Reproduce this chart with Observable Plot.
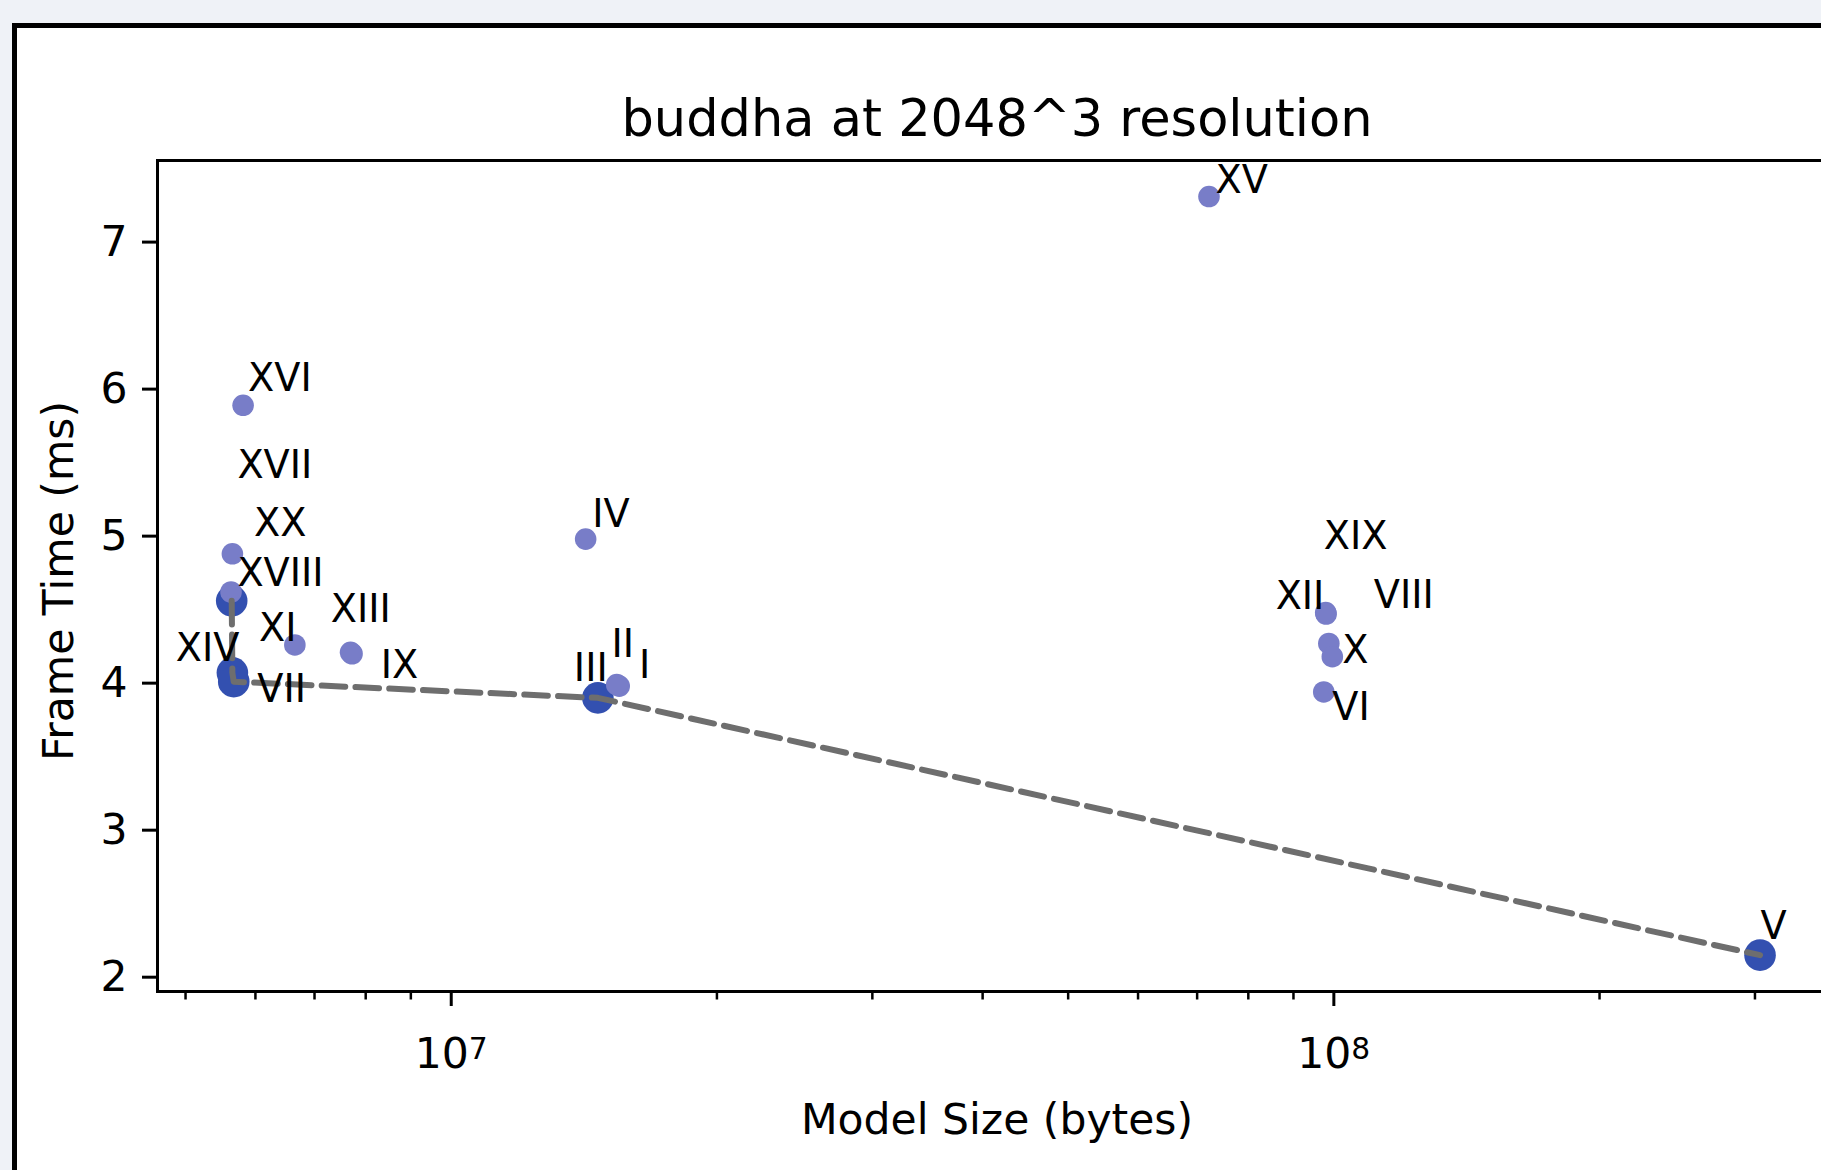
<!DOCTYPE html>
<html><head><meta charset="utf-8">
<script src="https://cdn.jsdelivr.net/npm/d3@7"></script>
<script src="https://cdn.jsdelivr.net/npm/@observablehq/plot@0.6"></script>
<style>
html,body{margin:0;padding:0;}
body{width:1821px;height:1170px;overflow:hidden;background:#eff2f7;position:relative;font-family:"DejaVu Sans";}
#sheet{position:absolute;left:12px;top:23px;width:1900px;height:1300px;border-left:5px solid #000;border-top:5px solid #000;background:#fff;}
#chart{position:absolute;left:17px;top:28px;}
</style></head><body>
<div id="sheet"></div><div id="chart"></div>
<script>
const title = "buddha at 2048^3 resolution";
const xLabel = "Model Size (bytes)";
const yLabel = "Frame Time (ms)";

const names      = ["I","II","III","IV","V","VI","VII","VIII","IX","X","XI","XII","XIII","XIV","XV","XVI","XVII","XVIII","XIX","XX"];
const modelBytes = [1.55e7,1.54e7,1.466e7,1.42e7,3.04e8,9.74e7,5.67e6,9.87e7,7.72e6,9.96e7,6.65e6,9.79e7,7.69e6,5.65e6,7.22e7,5.81e6,5.65e6,5.64e6,9.80e7,5.63e6];
const frameMs    = [3.98,3.99,3.90,4.98,2.15,3.94,4.01,4.27,4.20,4.18,4.26,4.48,4.21,4.07,7.31,5.89,4.88,4.56,4.47,4.62];
const onFront    = [false,false,true,false,true,false,true,false,false,false,false,false,false,true,false,false,false,true,false,false];
// annotation anchor positions (data coordinates, left/baseline of each label)
const labelBytes = [1.632e7,1.519e7,1.377e7,1.445e7,3.044e8,9.958e7,6.03e6,1.11e8,8.318e6,1.022e8,6.055e6,8.591e7,7.302e6,4.874e6,7.345e7,5.885e6,5.724e6,5.724e6,9.743e7,5.977e6];
const labelMs    = [4.036,4.181,4.018,5.061,2.261,3.746,3.870,4.512,4.036,4.138,4.290,4.505,4.414,4.154,7.333,5.990,5.397,4.664,4.914,5.004];

const yTicks = [2,3,4,5,6,7];
const xMajorTicks = [1e7, 1e8];
const xMajorExponents = ["7","8"];
const xMinorTicks = [5e6,6e6,7e6,8e6,9e6,2e7,3e7,4e7,5e7,6e7,7e7,8e7,9e7,2e8,3e8];

const rows = names.map((name,i)=>({name, bytes: modelBytes[i], ms: frameMs[i], front: onFront[i], lx: labelBytes[i], ly: labelMs[i]}));
const front = rows.filter(d=>d.front).sort((a,b)=>a.bytes-b.bytes);
const others = rows.filter(d=>!d.front);

const plot = Plot.plot({
  width: 1830, height: 1142,
  marginLeft: 140, marginTop: 132, marginBottom: 179, marginRight: 11,
  style: {fontFamily: "DejaVu Sans", fontSize: "42.5px", background: "transparent", color: "#000", maxWidth: "none", overflow: "visible"},
  x: {type: "log", domain: [Math.pow(10,6.6672), Math.pow(10,8.5695)], label: null},
  y: {domain: [1.9027, 7.555], label: null},
  marks: [
    Plot.axisY({ticks: yTicks, tickSize: 15, tickPadding: 15, strokeWidth: 3, fontSize: 42.5, label: null, tickFormat: d => String(d)}),
    Plot.axisX({ticks: xMajorTicks, tickSize: 15, strokeWidth: 3, tickFormat: () => "", label: null}),
    Plot.axisX({ticks: xMinorTicks, tickSize: 8.5, strokeWidth: 2.5, tickFormat: () => "", label: null}),
    Plot.text(xMajorTicks, {x: d => d, text: () => "10", frameAnchor: "bottom", textAnchor: "end", lineAnchor: "bottom", dx: 17.5, dy: 76, fontSize: 42.5}),
    Plot.text(xMajorTicks, {x: d => d, text: (d,i) => xMajorExponents[i], frameAnchor: "bottom", textAnchor: "start", lineAnchor: "bottom", dx: 17.5, dy: 67, fontSize: 29.75}),
    Plot.dot(front, {x: "bytes", y: "ms", r: 15.8, fill: "#3350b0"}),
    Plot.dot(others, {x: "bytes", y: "ms", r: 10.8, fill: "#787dc8"}),
    Plot.line(front, {x: "bytes", y: "ms", stroke: "#6e6e6e", strokeWidth: 6, strokeDasharray: "23.6,10.2"}),
    Plot.text(rows, {x: "lx", y: "ly", text: "name", textAnchor: "start", lineAnchor: "bottom", fontSize: 38.25, fill: "#000"}),
    Plot.frame({stroke: "#000", strokeWidth: 3}),
    Plot.text([title], {text: d => d, frameAnchor: "top", lineAnchor: "bottom", dy: -25, fontSize: 51, fill: "#000"}),
    Plot.text([xLabel], {text: d => d, frameAnchor: "bottom", lineAnchor: "bottom", dy: 142, fontSize: 42.5, fill: "#000"}),
    Plot.text([yLabel], {text: d => d, frameAnchor: "left", rotate: -90, textAnchor: "middle", lineAnchor: "bottom", dx: -85, dy: 5, fontSize: 42.5, fill: "#000"})
  ]
});
document.getElementById("chart").appendChild(plot);
</script>
</body></html>
